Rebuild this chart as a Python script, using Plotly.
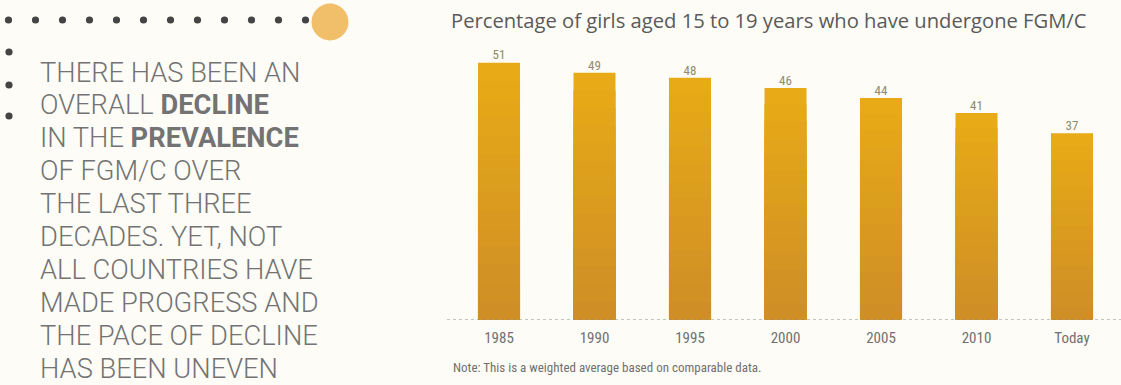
import plotly.graph_objects as go

# Prevalence of FGM/C among girls aged 15-19, weighted average (%)
years = ["1985", "1990", "1995", "2000", "2005", "2010", "Today"]
prevalence = [51, 49, 48, 46, 44, 41, 37]

W, H = 1121, 385
BG = "#FDFCF6"
NARROW = "Liberation Sans Narrow, Roboto Condensed, Arial Narrow, sans-serif"


def px(x):
    return x / W


def py(y):
    return 1 - y / H


fig = go.Figure()

# Bars with a vertical gold gradient: stacked overlay layers, lighter on top
light = (232, 170, 22)
dark = (207, 143, 38)
steps = 14
for k in range(steps):
    t = k / (steps - 1)
    col = tuple(round(light[i] + (dark[i] - light[i]) * t) for i in range(3))
    frac = (steps - k) / steps
    fig.add_trace(go.Bar(
        x=years,
        y=[v * frac for v in prevalence],
        marker=dict(color="rgb(%d,%d,%d)" % col, line=dict(width=0)),
        hoverinfo="skip",
        showlegend=False,
    ))

# Value labels above the bars
fig.add_trace(go.Scatter(
    x=years,
    y=prevalence,
    mode="text",
    text=[str(v) for v in prevalence],
    textposition="top center",
    textfont=dict(family=NARROW, size=13, color="#8E8B6E"),
    hoverinfo="skip",
    showlegend=False,
))

plot_top, plot_bottom = 17.0, 319.5
fig.update_layout(
    width=W,
    height=H,
    margin=dict(l=0, r=0, t=0, b=0),
    paper_bgcolor=BG,
    plot_bgcolor=BG,
    barmode="overlay",
    bargap=0.56,
    xaxis=dict(
        domain=[px(451.25), px(1119.75)],
        range=[-0.5, 6.5],
        showgrid=False,
        zeroline=False,
        showline=False,
        ticks="",
        ticklabelstandoff=7,
        tickfont=dict(family=NARROW, size=15, color="#707070"),
        fixedrange=True,
    ),
    yaxis=dict(
        domain=[py(plot_bottom), py(plot_top)],
        range=[0, (plot_bottom - plot_top) / 5.035],
        visible=False,
        fixedrange=True,
    ),
    font=dict(family=NARROW),
)

shapes = []
# Dotted baseline under the bars
shapes.append(dict(
    type="line", xref="paper", yref="y",
    x0=px(447), x1=1, y0=0, y1=0,
    line=dict(color="#8A8A8A", width=1, dash="dot"),
    layer="above",
))

# Decorative dotted border with an orange disc
dot_r = 3.6
for i in range(12):
    cx, cy = 8.5 + i * 27, 20
    shapes.append(dict(
        type="circle", xref="paper", yref="paper",
        x0=px(cx - dot_r), x1=px(cx + dot_r),
        y0=py(cy + dot_r), y1=py(cy - dot_r),
        fillcolor="#444444", line=dict(width=0),
    ))
for cy in (52, 85, 116):
    cx = 9
    shapes.append(dict(
        type="circle", xref="paper", yref="paper",
        x0=px(cx - dot_r), x1=px(cx + dot_r),
        y0=py(cy + dot_r), y1=py(cy - dot_r),
        fillcolor="#444444", line=dict(width=0),
    ))
shapes.append(dict(
    type="circle", xref="paper", yref="paper",
    x0=px(330 - 18.5), x1=px(330 + 18.5),
    y0=py(22 + 18.5), y1=py(22 - 18.5),
    fillcolor="#F1BE6A", line=dict(width=0),
))
fig.update_layout(shapes=shapes)

annotations = []
# Chart title
annotations.append(dict(
    text="Percentage of girls aged 15 to 19 years who have undergone FGM/C",
    xref="paper", yref="paper", x=px(449), y=py(20),
    xanchor="left", yanchor="middle", showarrow=False,
    font=dict(family="Open Sans, sans-serif", size=20.2, color="#5A5A5A"),
))
# Source note
annotations.append(dict(
    text="Note: This is a weighted average based on comparable data.",
    xref="paper", yref="paper", x=px(451), y=py(367),
    xanchor="left", yanchor="middle", showarrow=False,
    font=dict(family=NARROW, size=13, color="#707070"),
))

# Headline text block
lines = [
    "THERE HAS BEEN AN",
    "OVERALL <b>DECLINE</b>",
    "IN THE <b>PREVALENCE</b>",
    "OF FGM/C OVER",
    "THE LAST THREE",
    "DECADES. YET, NOT",
    "ALL COUNTRIES HAVE",
    "MADE PROGRESS AND",
    "THE PACE OF DECLINE",
    "HAS BEEN UNEVEN",
]
for i, line in enumerate(lines):
    annotations.append(dict(
        text=line,
        xref="paper", yref="paper", x=px(38), y=py(72.5 + i * 32.9),
        xanchor="left", yanchor="middle", showarrow=False,
        font=dict(family="Roboto, sans-serif", size=27.3, weight=300,
                  color="#737373"),
    ))
fig.update_layout(annotations=annotations)

fig.write_html("out.html")
